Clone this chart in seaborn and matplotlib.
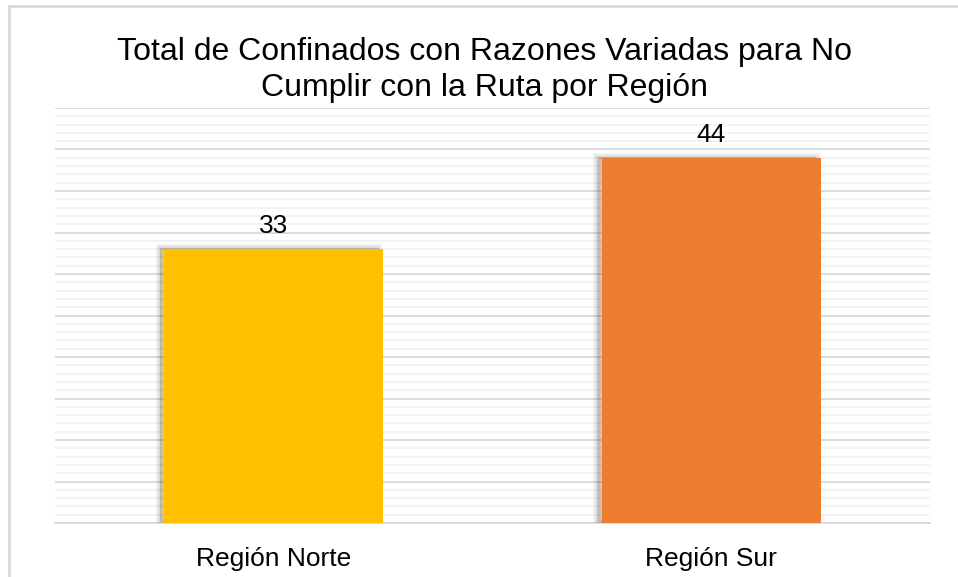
import numpy as np
import pandas as pd
import seaborn as sns
import matplotlib.pyplot as plt
import matplotlib.patheffects as pe
from matplotlib.patches import Rectangle
from matplotlib.ticker import MultipleLocator

regiones = ["Región Norte", "Región Sur"]
confinados = [33, 44]
colores = ["#FFC000", "#ED7D31"]
titulo = "Total de Confinados con Razones Variadas para No\nCumplir con la Ruta por Región"

df = pd.DataFrame({"region": regiones, "total": confinados})

sns.set_style("white")
plt.rcParams["font.family"] = ["Liberation Sans", "DejaVu Sans"]

fig = plt.figure(figsize=(9.58, 5.77), dpi=100)
ax = fig.add_axes([55 / 958, 1 - 523 / 577, 875 / 958, 415 / 577])

sns.barplot(data=df, x="region", y="total", hue="region", palette=colores,
            width=0.5, legend=False, ax=ax, saturation=1, linewidth=0, zorder=3)

# blurred shadow, mostly on the left side
shadow = [pe.SimplePatchShadow(offset=(-3, 0.5), shadow_rgbFace="black", alpha=0.15)]
shadow += [pe.Stroke(offset=(-3.5, 0.5), linewidth=w, foreground="black", alpha=0.035)
           for w in (1.5, 3, 4.5, 6)]
shadow += [pe.Normal()]
for p in ax.patches:
    p.set_path_effects(shadow)

for p, v in zip(ax.patches, confinados):
    ax.text(p.get_x() + p.get_width() / 2, v + 1.3, str(v), ha="center", va="bottom",
            fontsize=19, color="#000000")

ax.set_ylim(0, 50)
ax.set_xlim(-0.5, 1.5)
ax.yaxis.set_major_locator(MultipleLocator(5))
ax.yaxis.set_minor_locator(MultipleLocator(1))
ax.grid(axis="y", which="major", color="#d9d9d9", lw=1.3, zorder=0)
ax.grid(axis="y", which="minor", color="#f2f2f2", lw=1.3, zorder=0)
ax.set_axisbelow(True)
ax.tick_params(axis="y", which="both", left=False, labelleft=False)

ax.set_xticks([0, 1])
ax.set_xticklabels(regiones, fontsize=19, color="#000000")
ax.set_xticks([-0.5, 0.5, 1.5], minor=True)
ax.tick_params(axis="x", which="major", length=0, pad=17)
ax.tick_params(axis="x", which="minor", length=7, width=1.3, color="#d9d9d9")
ax.set_xlabel("")
ax.set_ylabel("")
for s in ["top", "right", "left"]:
    ax.spines[s].set_visible(False)
ax.spines["bottom"].set_color("#d9d9d9")
ax.spines["bottom"].set_linewidth(1.3)

fig.text(0.506, 1 - 70 / 577, titulo, ha="center", va="center", fontsize=23,
         linespacing=1.25, color="#000000")

fig.patches.append(Rectangle((8.5 / 958, -0.2), 2, 1.2 - 5.5 / 577,
                             transform=fig.transFigure, fill=False,
                             edgecolor="#d9d9d9", lw=2, figure=fig))

fig.savefig("out.png", dpi=100)
